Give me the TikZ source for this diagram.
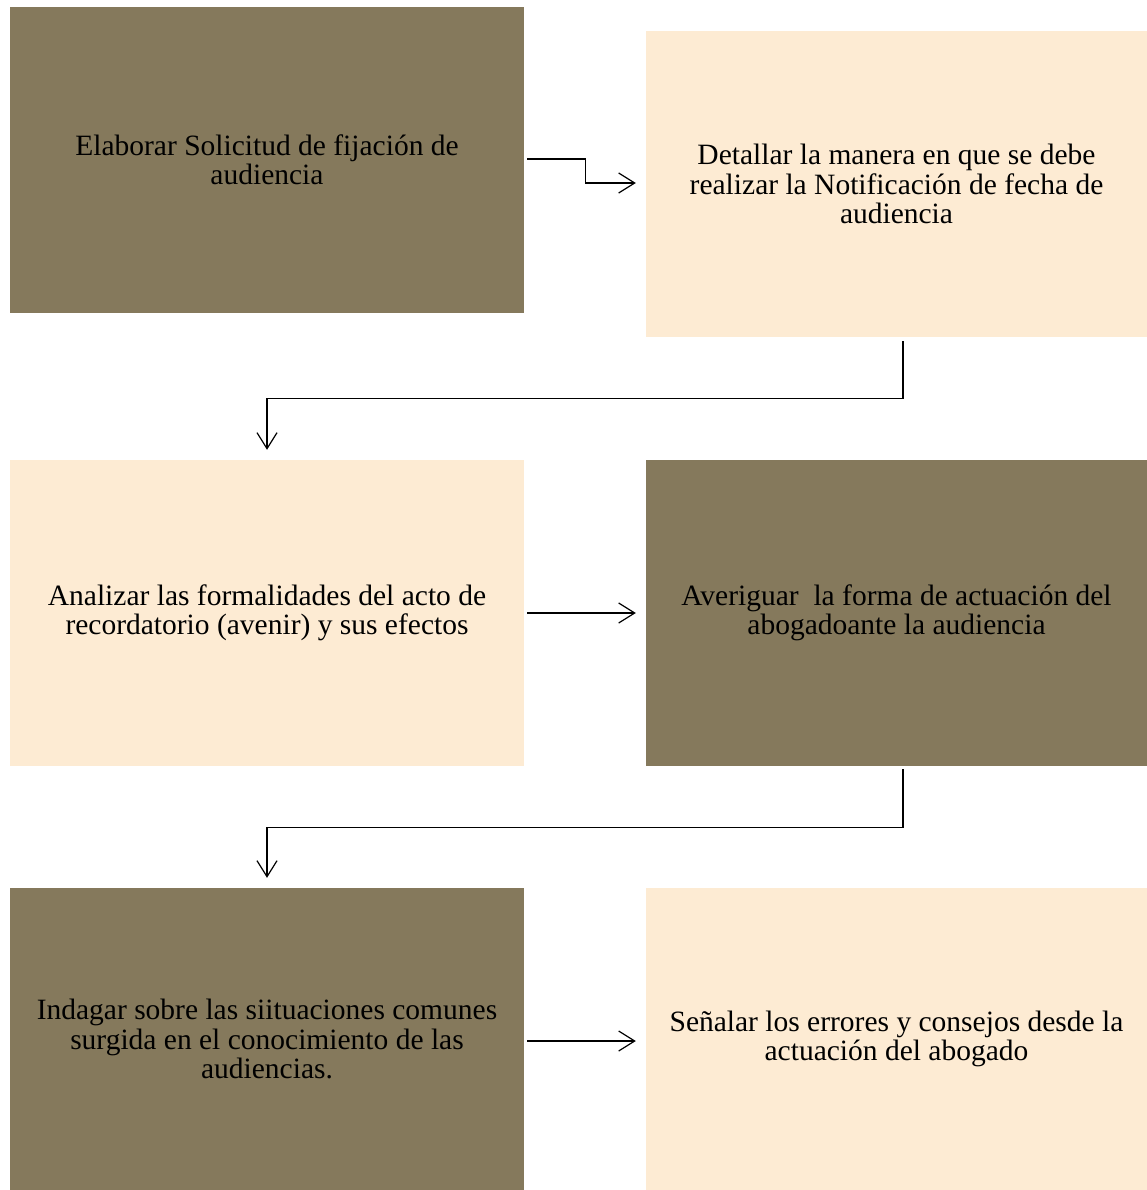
\documentclass[tikz,border=0pt]{standalone}
\usepackage{fontspec}
\setmainfont{Liberation Serif}
\usetikzlibrary{arrows.meta}
\definecolor{darkbox}{HTML}{85795C}
\definecolor{lightbox}{HTML}{FDEBD3}
\tikzset{
  boxbase/.style={rectangle, inner sep=0pt, align=center, text=black,
    font=\fontsize{29.5pt}{29.5pt}\selectfont},
  leftbox/.style={boxbase, minimum width=514pt},
  rightbox/.style={boxbase, minimum width=501pt},
  darkfill/.style={fill=darkbox},
  lightfill/.style={fill=lightbox},
  arr/.style={draw=black, line width=1.2pt, -{Straight Barb[length=16pt,width=20pt,line width=1.2pt]}}
}
\begin{document}
\begin{tikzpicture}[x=1pt,y=-1pt]
\useasboundingbox (0,0) rectangle (1147,1190);
\node[leftbox, darkfill, minimum height=306pt] (b1) at (267,160)
  {Elaborar Solicitud de fijación de\\audiencia};
\node[rightbox, lightfill, minimum height=306pt] (b2) at (896.5,184)
  {Detallar la manera en que se debe\\realizar la Notificación de fecha de\\audiencia};
\node[leftbox, lightfill, minimum height=306pt] (b3) at (267,613)
  {Analizar las formalidades del acto de\\recordatorio (avenir) y sus efectos};
\node[rightbox, darkfill, minimum height=306pt] (b4) at (896.5,613)
  {Averiguar\ \ la forma de actuación del\\abogadoante la audiencia};
\node[leftbox, darkfill, minimum height=302pt] (b5) at (267,1039)
  {Indagar sobre las siituaciones comunes\\surgida en el conocimiento de las\\audiencias.};
\node[rightbox, lightfill, minimum height=302pt] (b6) at (896.5,1039)
  {Señalar los errores y consejos desde la\\actuación del abogado};

\draw[arr] ([xshift=3pt,yshift=1pt]b1.east) -- ++(58,0) |- ([xshift=-10pt,yshift=1pt]b2.west);
\draw[arr] ([xshift=6.5pt,yshift=-4pt]b2.south) -- ++(0,57) -| ([yshift=10pt]b3.north);
\draw[arr] ([xshift=3pt]b3.east) -- ([xshift=-10pt]b4.west);
\draw[arr] ([xshift=6.5pt,yshift=-3pt]b4.south) -- ++(0,58) -| ([yshift=10pt]b5.north);
\draw[arr] ([xshift=3pt,yshift=-2pt]b5.east) -- ([xshift=-10pt,yshift=-2pt]b6.west);
\end{tikzpicture}
\end{document}
